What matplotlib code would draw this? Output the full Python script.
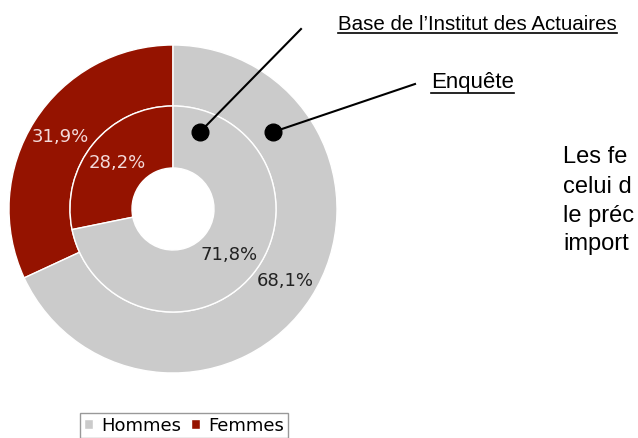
import matplotlib.pyplot as plt
from matplotlib.patches import Patch
from matplotlib.lines import Line2D

# data
categories = ['Femmes', 'Hommes']
enquete = [31.9, 68.1]      # outer ring
base_ia = [28.2, 71.8]      # inner ring
colors = ['#951300', '#CBCBCB']
label_colors = ['#F3DADA', '#222222']
# right-hand paragraph, cut by the right edge in the source
body_lines = ['Les fe', 'celui d', 'le préc', 'import']

narrow = ['Liberation Sans Narrow', 'Liberation Sans', 'DejaVu Sans']

fig = plt.figure(figsize=(6.38, 4.38), dpi=100)
ax = fig.add_axes([0, 0, 1, 1])

H = 438
cx, cy = 173, H - 209


def fmt(p):
    return f'{p:.1f}%'.replace('.', ',')


w1, t1, a1 = ax.pie(enquete, radius=164, center=(cx, cy), startangle=90,
                    colors=colors, autopct=fmt, pctdistance=0.815,
                    wedgeprops=dict(width=61, edgecolor='white', linewidth=1))
w2, t2, a2 = ax.pie(base_ia, radius=103, center=(cx, cy), startangle=90,
                    colors=colors, autopct=fmt, pctdistance=0.70,
                    wedgeprops=dict(width=62, edgecolor='white', linewidth=1))
for autos in (a1, a2):
    for t, c in zip(autos, label_colors):
        t.set_color(c)
        t.set_fontsize(13)
        t.set_family('DejaVu Sans')

ax.set_xlim(0, 638)
ax.set_ylim(0, H)
ax.set_aspect('equal')
ax.axis('off')

# pointers
ax.plot([200, 301], [H - 132, H - 29], color='black', lw=1.5)
ax.plot([273, 415], [H - 132, H - 84], color='black', lw=1.5)
ax.plot([200, 273], [H - 132, H - 132], 'o', color='black', ms=12)

t_base = ax.text(338, H - 30, 'Base de l’Institut des Actuaires', family=narrow,
                 fontsize=14.8, va='baseline', ha='left', color='black')
t_enq = ax.text(431, H - 88, 'Enquête', family=narrow,
                fontsize=16, va='baseline', ha='left', color='black')

baselines = [163, 193, 222, 250]
for s, b in zip(body_lines, baselines):
    ax.text(563, H - b, s, family=narrow, fontsize=17, va='baseline',
            ha='left', color='black')

handles = [Patch(facecolor=colors[1], edgecolor='white'),
           Patch(facecolor=colors[0], edgecolor='white')]
leg = ax.legend(handles, ['Hommes', 'Femmes'], loc='upper left',
                bbox_to_anchor=(80 / 638, 1 - 413 / H), ncol=2, frameon=True,
                fancybox=False, borderpad=0.2, handlelength=0.5, handleheight=0.5,
                handletextpad=0.5, columnspacing=0.5, borderaxespad=0,
                prop=dict(family='DejaVu Sans', size=13))
leg.get_frame().set_edgecolor('#808080')
leg.get_frame().set_linewidth(1)

# underlines
fig.canvas.draw()
r = fig.canvas.get_renderer()
for t in (t_base, t_enq):
    bb = t.get_window_extent(r)
    y = H - (33 if t is t_base else 93)
    ax.add_line(Line2D([bb.x0, bb.x1], [y, y], color='black', lw=1.2))

fig.savefig('out.png', dpi=100)
